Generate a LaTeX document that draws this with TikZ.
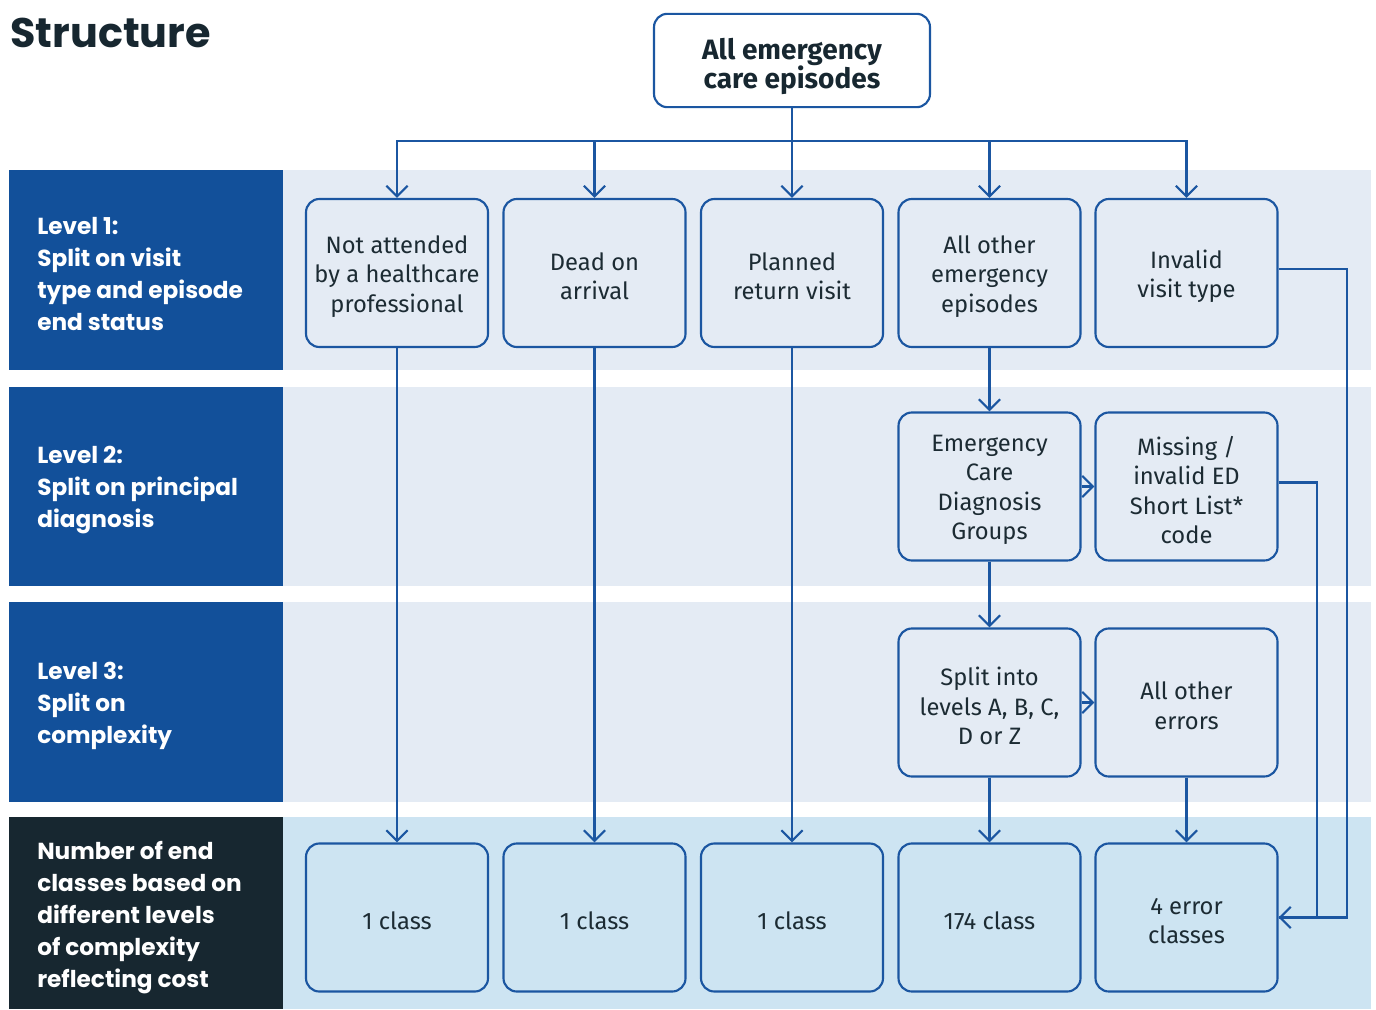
\documentclass[tikz,border=0pt]{standalone}
\usepackage{fontspec}
\setmainfont{Fira Sans}
\newfontfamily\popfont{Poppins}
\usetikzlibrary{arrows.meta}
\definecolor{linec}{HTML}{1B56A1}
\definecolor{lblue}{HTML}{12509A}
\definecolor{bandc}{HTML}{E4EBF4}
\definecolor{bandd}{HTML}{CDE4F2}
\definecolor{darkc}{HTML}{172730}
\definecolor{txtc}{HTML}{1C2B33}
\newcommand\bx[3]{\node[box] (#1) at (#2) {};
  \node[btxt] (#1t) at ([yshift=-2.6pt]#1.center) {#3};}
\begin{document}
\begin{tikzpicture}[x=0.75pt,y=-0.75pt,
  box/.style={draw=linec,line width=1.6pt,rounded corners=10pt,minimum width=136.5pt,minimum height=111pt,inner sep=0pt},
  btxt/.style={inner sep=0pt,align=center,text=txtc,font=\fontsize{17.8}{22.1}\selectfont},
  topbox/.style={draw=linec,line width=1.6pt,rounded corners=10pt,minimum width=207pt,minimum height=70pt,inner sep=0pt},
  toptxt/.style={inner sep=0pt,align=center,text=darkc,font=\fontsize{21}{21.75}\selectfont\bfseries},
  lvl/.style={anchor=west,align=left,text=white,inner sep=0pt,font=\popfont\bfseries\fontsize{17.4}{24}\selectfont},
  arr/.style={draw=linec,line width=1.6pt,-{Straight Barb[length=8pt,width=16pt,line width=1.6pt]}},
  ln/.style={draw=linec,line width=1.6pt}]
\useasboundingbox (0,0) rectangle (1376,1009);
% bands
\fill[bandc] (283,170) rectangle (1371,370);
\fill[bandc] (283,387) rectangle (1371,586);
\fill[bandc] (283,602) rectangle (1371,802);
\fill[bandd] (283,817) rectangle (1371,1009);
\fill[lblue] (9,170) rectangle (283,370);
\fill[lblue] (9,387) rectangle (283,586);
\fill[lblue] (9,602) rectangle (283,802);
\fill[darkc] (9,817) rectangle (283,1009);
% title
\node[anchor=west,inner sep=0pt,text=darkc,font=\popfont\bfseries\fontsize{31}{34}\selectfont] (title) at (10,33) {Structure};
% level labels
\node[lvl] (l1) at (37,274) {Level 1:\\Split on visit\\type and episode\\end status};
\node[lvl] (l2) at (37,490) {Level 2:\\Split on principal\\diagnosis};
\node[lvl] (l3) at (37,706) {Level 3:\\Split on\\complexity};
\node[lvl] (l4) at (37,918) {Number of end\\classes based on\\different levels\\of complexity\\reflecting cost};
% top
\node[topbox] (top) at (792,60.5) {};
\node[toptxt] (topt) at ([yshift=-4.5pt]top.center) {All emergency\\care episodes};
% level 1
\bx{a1}{397,273}{Not attended\\by a healthcare\\professional}
\bx{a2}{594.5,273}{Dead on\\arrival}
\bx{a3}{792,273}{Planned\\return visit}
\bx{a4}{989.5,273}{All other\\emergency\\episodes}
\bx{a5}{1186.5,273}{Invalid\\visit type}
% level 2
\bx{b4}{989.5,486.5}{Emergency\\Care\\Diagnosis\\Groups}
\bx{b5}{1186.5,486.5}{Missing /\\invalid ED\\Short List*\\code}
% level 3
\bx{c4}{989.5,702.5}{Split into\\levels A, B, C,\\D or Z}
\bx{c5}{1186.5,702.5}{All other\\errors}
% end
\bx{d1}{397,917.5}{1 class}
\bx{d2}{594.5,917.5}{1 class}
\bx{d3}{792,917.5}{1 class}
\bx{d4}{989.5,917.5}{174 class}
\bx{d5}{1186.5,917.5}{4 error\\classes}
% connectors
\coordinate (bus) at (792,141);
\coordinate (r1) at (1347,0);
\coordinate (r2) at (1317,0);
\draw[ln] (top.south) -- (bus);
\draw[arr] (bus) -| (a1.north);
\draw[arr] (bus) -| (a2.north);
\draw[arr] (top.south) -- (a3.north);
\draw[arr] (bus) -| (a4.north);
\draw[arr] (bus) -| (a5.north);
\draw[arr] (a1) -- (d1);
\draw[arr] (a2) -- (d2);
\draw[arr] (a3) -- (d3);
\draw[arr] (a4) -- (b4);
\draw[arr] (b4) -- (c4);
\draw[arr] (c4) -- (d4);
\draw[arr] (b4) -- (b5);
\draw[arr] (c4) -- (c5);
\draw[arr] (c5) -- (d5);
\draw[ln] ([yshift=3pt]a5.east) -| (r1 |- d5.east) -- (d5.east);
\draw[ln] ([yshift=3pt]b5.east) -| (r2 |- d5.east);
\draw[arr] (r2 |- d5.east) -- (d5.east);
\end{tikzpicture}
\end{document}
